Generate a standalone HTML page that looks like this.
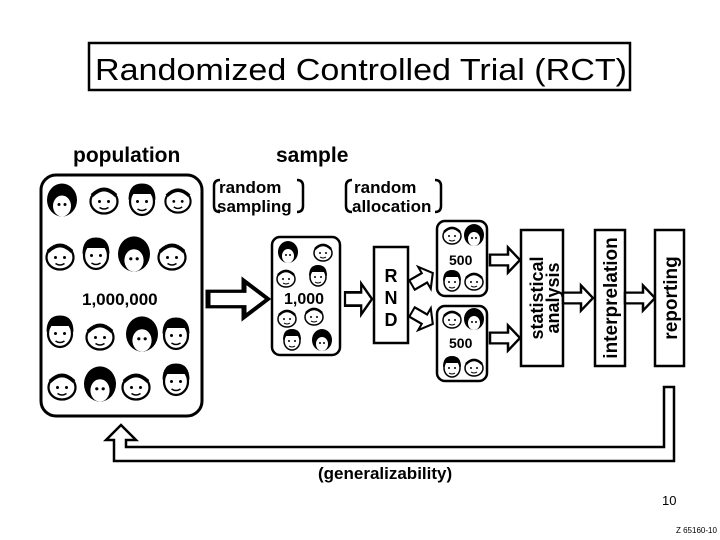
<!DOCTYPE html>
<html><head><meta charset="utf-8"><style>
body{margin:0;background:#fff;}
svg{display:block;font-family:"Liberation Sans",sans-serif;}
</style></head><body>
<svg width="720" height="540" viewBox="0 0 720 540" xmlns="http://www.w3.org/2000/svg">
<defs>
<g id="fd"><ellipse cx="0" cy="1" rx="8" ry="9" fill="#fff" stroke="#000" stroke-width="1.5"/><path d="M-9,0 Q-9,-11 0,-11 Q9,-11 9,0 L6,-4 L-6,-4 Z" fill="#000"/><circle cx="-3" cy="1" r="1" fill="#000"/><circle cx="3" cy="1" r="1" fill="#000"/><path d="M-3,6 Q0,8 3,6" stroke="#000" fill="none"/></g>
<g id="fl"><ellipse cx="0" cy="1" rx="9" ry="8" fill="#fff" stroke="#000" stroke-width="1.5"/><path d="M-8,-3 Q0,-11 8,-3" stroke="#000" fill="none" stroke-width="2.5"/><circle cx="-3" cy="1" r="1" fill="#000"/><circle cx="3" cy="1" r="1" fill="#000"/><path d="M-3,5 Q0,7 3,5" stroke="#000" fill="none"/></g>
<g id="fb"><ellipse cx="0" cy="0" rx="10" ry="11" fill="#000"/><ellipse cx="0" cy="4" rx="6" ry="7" fill="#fff"/><circle cx="-2" cy="3" r="1" fill="#000"/><circle cx="2" cy="3" r="1" fill="#000"/></g>
<g id="arr"><path d="M0,-6 H18 V-14 L30,0 L18,14 V6 H0 Z" fill="#fff" stroke="#000" stroke-width="2.5"/></g>
</defs>
<rect x="89" y="43" width="541" height="47" fill="none" stroke="#000" stroke-width="2.5"/>
<text x="95" y="80" font-size="31" textLength="532" lengthAdjust="spacingAndGlyphs">Randomized Controlled Trial (RCT)</text>
<text x="73" y="162" font-size="21" font-weight="bold">population</text>
<text x="276" y="162" font-size="21" font-weight="bold">sample</text>
<rect x="41" y="175" width="161" height="241" rx="15" fill="none" stroke="#000" stroke-width="3"/>
<g transform="translate(62,200) scale(1.5)"><use href="#fb"/></g><g transform="translate(104,200) scale(1.5)"><use href="#fl"/></g><g transform="translate(142,200) scale(1.5)"><use href="#fd"/></g><g transform="translate(178,200) scale(1.4)"><use href="#fl"/></g>
<g transform="translate(60,256) scale(1.5)"><use href="#fl"/></g><g transform="translate(96,254) scale(1.5)"><use href="#fd"/></g><g transform="translate(134,254) scale(1.6)"><use href="#fb"/></g><g transform="translate(172,256) scale(1.5)"><use href="#fl"/></g>
<text x="82" y="305" font-size="17" font-weight="bold">1,000,000</text>
<g transform="translate(60,332) scale(1.5)"><use href="#fd"/></g><g transform="translate(100,336) scale(1.5)"><use href="#fl"/></g><g transform="translate(142,334) scale(1.6)"><use href="#fb"/></g><g transform="translate(176,334) scale(1.5)"><use href="#fd"/></g>
<g transform="translate(62,386) scale(1.5)"><use href="#fl"/></g><g transform="translate(100,384) scale(1.6)"><use href="#fb"/></g><g transform="translate(136,386) scale(1.5)"><use href="#fl"/></g><g transform="translate(176,380) scale(1.5)"><use href="#fd"/></g>
<path d="M220,180 Q214,180 214,186 V206 Q214,212 220,212" fill="none" stroke="#000" stroke-width="2.5"/>
<path d="M297,180 Q303,180 303,186 V206 Q303,212 297,212" fill="none" stroke="#000" stroke-width="2.5"/>
<text x="219" y="193" font-size="17" font-weight="bold">random</text><text x="217" y="212" font-size="17" font-weight="bold">sampling</text>
<path d="M352,180 Q346,180 346,186 V206 Q346,212 352,212" fill="none" stroke="#000" stroke-width="2.5"/>
<path d="M435,180 Q441,180 441,186 V206 Q441,212 435,212" fill="none" stroke="#000" stroke-width="2.5"/>
<text x="354" y="193" font-size="17" font-weight="bold">random</text><text x="352" y="212" font-size="17" font-weight="bold">allocation</text>
<use href="#arr" transform="translate(208,299) scale(2,1.3)"/>
<rect x="272" y="237" width="68" height="118" rx="8" fill="none" stroke="#000" stroke-width="2.5"/>
<use href="#fb" x="288" y="252"/><use href="#fl" x="323" y="252"/><use href="#fl" x="286" y="278"/><use href="#fd" x="318" y="276"/>
<text x="284" y="304" font-size="16" font-weight="bold">1,000</text>
<use href="#fl" x="287" y="318"/><use href="#fl" x="314" y="316"/><use href="#fd" x="292" y="340"/><use href="#fb" x="322" y="340"/>
<use href="#arr" transform="translate(345,299) scale(0.9,1.1)"/>
<rect x="374" y="247" width="34" height="96" fill="#fff" stroke="#000" stroke-width="2.5"/>
<text x="391" y="282" font-size="18" font-weight="bold" text-anchor="middle">R</text>
<text x="391" y="304" font-size="18" font-weight="bold" text-anchor="middle">N</text>
<text x="391" y="326" font-size="18" font-weight="bold" text-anchor="middle">D</text>
<use href="#arr" transform="translate(412,285) rotate(-30) scale(0.8,0.9)"/>
<use href="#arr" transform="translate(412,312) rotate(30) scale(0.8,0.9)"/>
<rect x="437" y="221" width="50" height="75" rx="8" fill="none" stroke="#000" stroke-width="2.5"/>
<use href="#fl" x="452" y="235"/><use href="#fb" x="474" y="235"/><text x="449" y="265" font-size="14" font-weight="bold">500</text><use href="#fd" x="452" y="281"/><use href="#fl" x="474" y="281"/>
<rect x="437" y="306" width="50" height="75" rx="8" fill="none" stroke="#000" stroke-width="2.5"/>
<use href="#fl" x="452" y="319"/><use href="#fb" x="474" y="319"/><text x="449" y="348" font-size="14" font-weight="bold">500</text><use href="#fd" x="452" y="367"/><use href="#fl" x="474" y="367"/>
<use href="#arr" transform="translate(490,260) scale(1,0.9)"/>
<use href="#arr" transform="translate(490,338) scale(1,0.9)"/>
<rect x="521" y="230" width="42" height="136" fill="#fff" stroke="#000" stroke-width="2.5"/>
<text transform="translate(543,298) rotate(-90)" font-size="18" font-weight="bold" text-anchor="middle">statistical</text>
<text transform="translate(559,298) rotate(-90)" font-size="18" font-weight="bold" text-anchor="middle">analysis</text>
<use href="#arr" transform="translate(563,298) scale(1,0.9)"/>
<rect x="595" y="230" width="30" height="136" fill="#fff" stroke="#000" stroke-width="2.5"/>
<text transform="translate(617,298) rotate(-90)" font-size="19" font-weight="bold" text-anchor="middle">interprelation</text>
<use href="#arr" transform="translate(625,298) scale(1,0.9)"/>
<rect x="655" y="230" width="29" height="136" fill="#fff" stroke="#000" stroke-width="2.5"/>
<text transform="translate(677,298) rotate(-90)" font-size="19" font-weight="bold" text-anchor="middle">reporting</text>
<path d="M664,387 H674 V461 H114 V440 H106 L121,425 L136,440 H126 V447 H664 Z" fill="#fff" stroke="#000" stroke-width="2.5"/>
<text x="318" y="479" font-size="17" font-weight="bold">(generalizability)</text>
<text x="662" y="505" font-size="13">10</text>
<text x="676" y="533" font-size="8">Z 65160-10</text>
</svg>
</body></html>
